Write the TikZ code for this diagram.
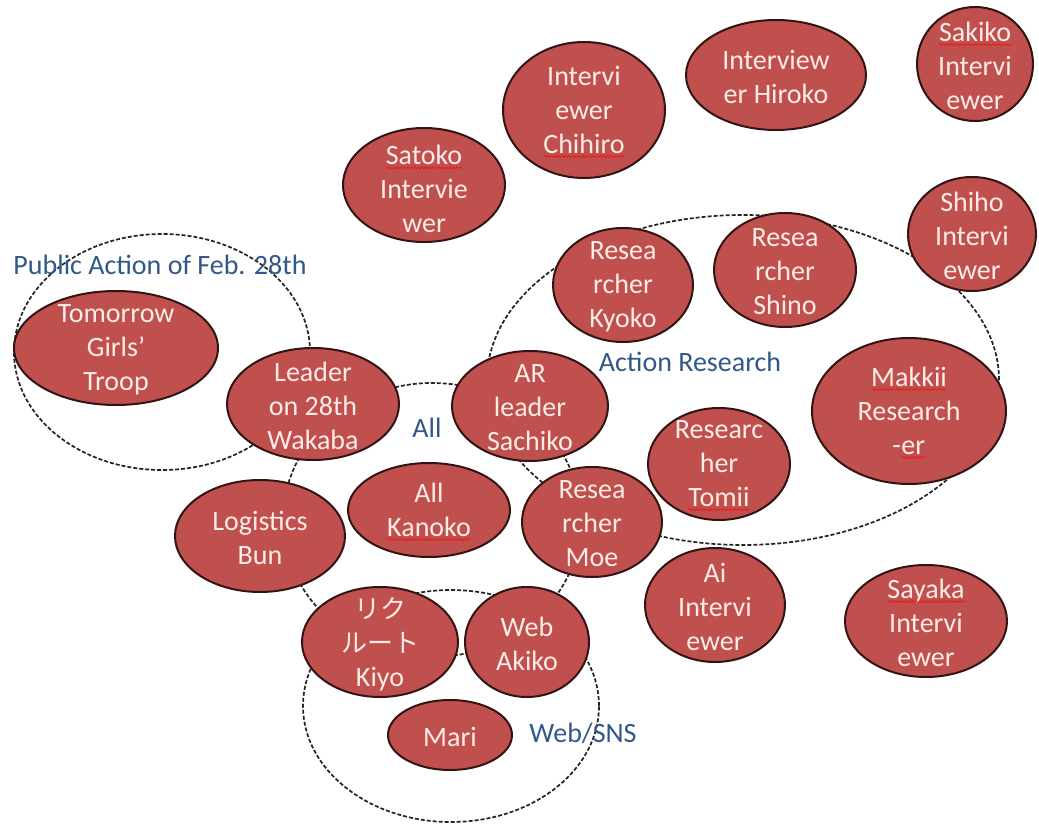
\documentclass[tikz,border=0pt]{standalone}
\usepackage{fontspec}
\setmainfont{Carlito}
\newfontfamily\jp{Noto Sans CJK JP}
\usetikzlibrary{shapes.geometric,decorations.pathmorphing}
\definecolor{blobfill}{RGB}{192,80,77}
\definecolor{blobline}{RGB}{50,20,20}
\definecolor{blobtext}{RGB}{252,236,232}
\definecolor{grpline}{RGB}{35,35,35}
\definecolor{lblblue}{RGB}{50,88,138}
\definecolor{squig}{RGB}{230,30,30}
\tikzset{
  blob/.style={ellipse, draw=blobline, fill=blobfill, line width=2pt, inner sep=0pt},
  blobtxt/.style={text=blobtext, align=center, inner sep=0pt, font=\fontsize{28}{34}\selectfont},
  grp/.style={ellipse, draw=grpline, line width=1.7pt, dash pattern=on 4pt off 2pt, inner sep=0pt},
  grplbl/.style={text=lblblue, inner sep=0pt, font=\fontsize{28}{34}\selectfont},
  sqline/.style={draw=squig, line width=0.8pt, decorate, decoration={snake, amplitude=1.1pt, segment length=3.5pt}},
}
\newcommand\sqg[1]{\tikz[baseline=(sq.base)]{\node[inner sep=0pt, outer sep=0pt, text=blobtext] (sq) {#1}; \path[sqline] ([yshift=-3pt]sq.base west) -- ([yshift=-3pt]sq.base east);}}
\newcommand\blobnode[6]{%
  \node[blob, minimum width=#4*2, minimum height=#5*2] (#1) at (#2,#3) {};
  \node[blobtxt] (#1-t) at ([yshift=-2pt]#1.center) {#6};}
\begin{document}
\begin{tikzpicture}[x=1pt,y=-1pt]
\useasboundingbox (0,0) rectangle (1039,826);
\fill[white] (0,0) rectangle (1039,826);
% group ellipses
\node[grp, minimum width=296, minimum height=236] (gpub) at (162,352) {};
\node[grp, minimum width=298, minimum height=274] (gall) at (432,520) {};
\node[grp, minimum width=512, minimum height=330] (gar) at (743,380) {};
\node[grp, minimum width=296, minimum height=232] (gweb) at (451,706) {};
% people
\blobnode{chihiro}{584}{110}{81}{68}{Intervi\\ewer\\\sqg{Chihiro}}
\blobnode{satoko}{424}{185}{81}{57}{\sqg{Satoko\strut}\\Intervie\\wer}
\blobnode{hiroko}{776}{75}{90}{55}{Interview\\er Hiroko}
\blobnode{sakiko}{975}{64}{58}{57}{\sqg{Sakiko}\\Intervi\\ewer}
\blobnode{shiho}{972}{234}{64}{57}{Shiho\\Intervi\\ewer}
\blobnode{kyoko}{623}{285}{70}{57}{Resea\\rcher\\Kyoko}
\blobnode{shino}{785}{270}{71}{57}{Resea\\rcher\\Shino}
\blobnode{makkii}{909}{411}{97}{73}{\sqg{Makkii}\\Research\\-\sqg{er}}
\blobnode{tomii}{719}{464}{71}{56}{Researc\\her\\\sqg{Tomii}}
\blobnode{sachiko}{530}{406}{78}{55}{AR\\leader\\Sachiko}
\blobnode{wakaba}{313}{404}{86}{56}{Leader\\on 28th\\Wakaba}
\blobnode{troop}{116}{348}{102}{57}{Tomorrow\\Girls’\\Troop}
\blobnode{kanoko}{429}{510}{81}{47}{All\\\sqg{Kanoko}}
\blobnode{moe}{592}{522}{70}{55}{Resea\\rcher\\Moe}
\blobnode{bun}{260}{536}{85}{56}{Logistics\\Bun}
\blobnode{kiyo}{380}{642}{78}{55}{{\jp\fontsize{26}{34}\selectfont リク}\\{\jp\fontsize{26}{34}\selectfont ルート}\\Kiyo}
\blobnode{akiko}{527}{642}{62}{55}{Web\\Akiko}
\blobnode{mari}{450}{735}{62}{35}{Mari}
\blobnode{ai}{715}{605}{70}{57}{Ai\\Intervi\\ewer}
\blobnode{sayaka}{926}{621}{81}{56}{\sqg{Sayaka}\\Intervi\\ewer}
% group labels
\node[grplbl] (lpub) at (160,265) {Public Action of Feb. 28th};
\node[grplbl] (lall) at (427,428) {All};
\node[grplbl] (lar) at (690,362) {Action Research};
\node[grplbl] (lweb) at (583,733) {Web/SNS};
\end{tikzpicture}
\end{document}
